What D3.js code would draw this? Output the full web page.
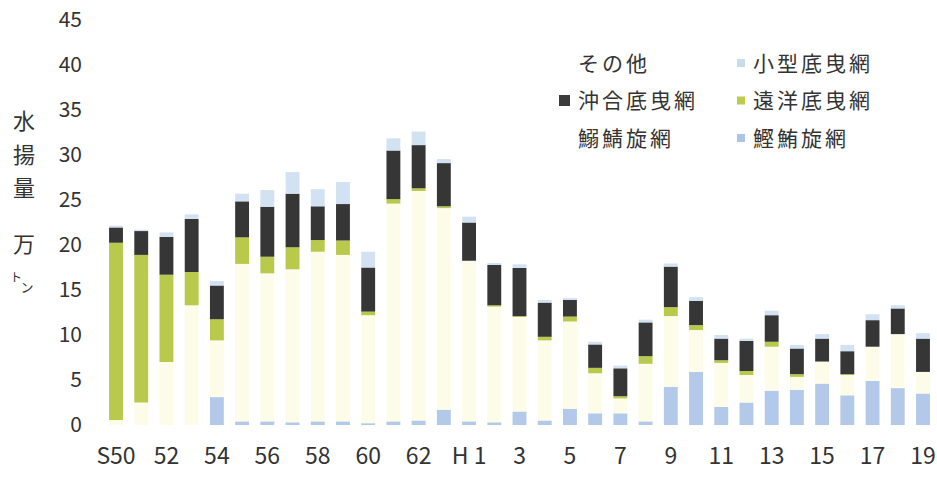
<!DOCTYPE html>
<html>
<head>
<meta charset="utf-8">
<script src="https://cdn.jsdelivr.net/npm/d3@7"></script>
<style>
  body { margin: 0; background: #fff; }
  text { fill: #333; }
</style>
</head>
<body>
<div class="chart"></div>
<script>
// years: Showa 50-63, Heisei 1-19
const years = ['S50','51','52','53','54','55','56','57','58','59','60','61','62','63',
  'H1','2','3','4','5','6','7','8','9','10','11','12','13','14','15','16','17','18','19'];

// stack order, bottom to top
const katsuo  = [0,0,0,0,3.1,0.4,0.4,0.3,0.4,0.4,0.2,0.4,0.5,1.7,
  0.4,0.3,1.5,0.5,1.8,1.3,1.3,0.4,4.25,5.9,2.0,2.5,3.8,3.9,4.6,3.3,4.9,4.1,3.5];
const iwashi  = [0.55,2.5,7.0,13.3,6.3,17.5,16.45,17.0,18.85,18.5,12.0,24.2,25.5,22.4,
  17.85,12.85,10.5,8.9,9.7,4.45,1.65,6.4,7.85,4.65,4.9,3.05,4.9,1.45,2.45,2.25,3.8,6.0,2.4];
const enyo    = [19.7,16.4,9.7,3.7,2.35,2.95,1.85,2.45,1.3,1.6,0.4,0.5,0.3,0.2,
  0,0.15,0.1,0.4,0.55,0.6,0.25,0.85,1.0,0.55,0.3,0.45,0.55,0.3,0,0.1,0,0,0];
const okiai   = [1.7,2.65,4.2,5.9,3.75,4.0,5.55,5.95,3.75,4.05,4.9,5.4,4.8,4.8,
  4.25,4.5,5.35,3.8,1.85,2.6,3.1,3.75,4.5,2.7,2.4,3.35,2.95,2.85,2.55,2.55,2.95,2.85,3.7];
const kogata  = [0.2,0.15,0.5,0.5,0.5,0.85,1.85,2.4,1.9,2.45,1.75,1.35,1.5,0.45,
  0.65,0.2,0.4,0.3,0.2,0.3,0.3,0.3,0.35,0.4,0.4,0.25,0.5,0.4,0.5,0.7,0.65,0.35,0.6];
const sonota  = [0,0,0,0,0,0,0,0,0,0,0,0,0,0,0,0,0,0,0,0,0,0,0,0,0,0,0,0,0,0,0,0,0];

const seriesNames = ['鰹鮪旋網','鰯鯖旋網','遠洋底曳網','沖合底曳網','小型底曳網','その他'];
const seriesValues = [katsuo, iwashi, enyo, okiai, kogata, sonota];
const colors = ['#b2c9e9','#fdfce8','#b9c94c','#363636','#d3e2f2','#ffffff'];

const yTicks = [0,5,10,15,20,25,30,35,40,45];

const width = 937, height = 486;
const font = '"Noto Sans CJK JP", "Noto Sans", sans-serif';

const svg = d3.select('.chart').append('svg')
  .attr('width', width).attr('height', height)
  .style('font-family', font);

const rows = years.map((y, i) => {
  const r = { year: y };
  seriesNames.forEach((s, k) => { r[s] = seriesValues[k][i]; });
  return r;
});

const x = d3.scaleBand()
  .domain(years)
  .range([103.4, 935.6])
  .paddingInner(0.45)
  .paddingOuter(0.225);

const y = d3.scaleLinear()
  .domain([0, 45])
  .range([425, 20]);

const stacked = d3.stack().keys(seriesNames)(rows);

svg.append('g')
  .selectAll('g')
  .data(stacked)
  .join('g')
  .attr('fill', (d, i) => colors[i])
  .selectAll('rect')
  .data(d => d)
  .join('rect')
  .attr('x', d => x(d.data.year))
  .attr('width', x.bandwidth())
  .attr('y', d => y(d[1]))
  .attr('height', d => Math.max(0, y(d[0]) - y(d[1])));

// y axis
const yAxis = svg.append('g')
  .attr('transform', 'translate(82,0)')
  .call(d3.axisLeft(y).tickValues(yTicks).tickSize(0).tickPadding(0));
yAxis.select('.domain').remove();
yAxis.selectAll('text')
  .style('font-family', font)
  .style('font-size', '21px')
  .attr('fill', '#333');

// x axis
const xAxis = svg.append('g')
  .attr('transform', 'translate(0,448)')
  .call(d3.axisBottom(x)
    .tickValues(years.filter((d, i) => i % 2 === 0))
    .tickFormat(d => d === 'H1' ? 'H 1' : d)
    .tickSize(0).tickPadding(0));
xAxis.select('.domain').remove();
xAxis.selectAll('text')
  .style('font-family', font)
  .style('font-size', '23px')
  .attr('fill', '#333');

// y title
const yTitle = svg.append('g').style('font-size', '22px');
[['水', 129], ['揚', 163], ['量', 196], ['万', 252]].forEach(([c, ty]) => {
  yTitle.append('text').attr('x', 24).attr('y', ty)
    .attr('text-anchor', 'middle').text(c);
});
svg.append('text').attr('x', 16).attr('y', 282).attr('text-anchor', 'middle')
  .style('font-size', '12px').text('ト');
svg.append('text').attr('x', 27).attr('y', 292).attr('text-anchor', 'middle')
  .style('font-size', '13px').text('ン');

// legend: two columns, top of stack first
const legendItems = [
  { name: 'その他', col: 0, row: 0, color: null },
  { name: '小型底曳網', col: 1, row: 0, color: '#c9dcef' },
  { name: '沖合底曳網', col: 0, row: 1, color: '#3c3c3c' },
  { name: '遠洋底曳網', col: 1, row: 1, color: '#bccb4e' },
  { name: '鰯鯖旋網', col: 0, row: 2, color: null },
  { name: '鰹鮪旋網', col: 1, row: 2, color: '#aac4e6' }
];
const legend = svg.append('g').style('font-size', '21px');
legendItems.forEach(d => {
  const lx = d.col === 0 ? 578 : 753;
  const ly = 63 + d.row * 37.5;
  if (d.color) {
    const s = d.col === 0 ? 11 : 8;
    legend.append('rect')
      .attr('x', lx - 8 - s).attr('y', ly - s / 2)
      .attr('width', s).attr('height', s)
      .attr('fill', d.color);
  }
  legend.append('text')
    .attr('x', lx).attr('y', ly)
    .attr('dy', '0.36em')
    .style('letter-spacing', '3px')
    .text(d.name);
});
</script>
</body>
</html>
